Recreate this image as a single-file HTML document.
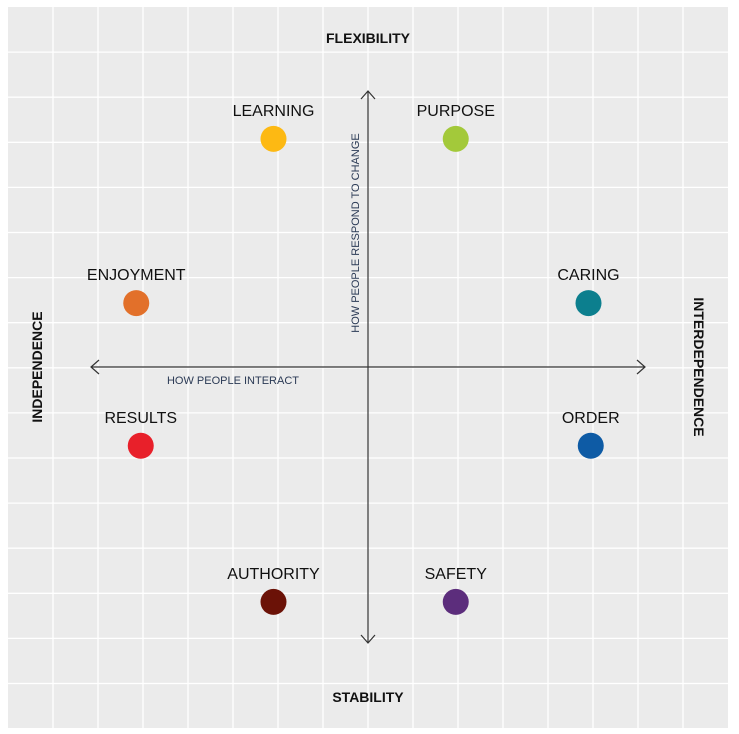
<!DOCTYPE html>
<html><head><meta charset="utf-8"><style>
html,body{margin:0;padding:0;background:#fff;}
svg{display:block;}
.lbl{font-family:"Liberation Sans",sans-serif;font-size:16px;fill:#111;text-anchor:middle;}
.ttl{font-family:"Liberation Sans Narrow","Liberation Sans",sans-serif;font-weight:bold;font-size:14px;fill:#111;text-anchor:middle;}
.ax{font-family:"Liberation Sans",sans-serif;font-size:11px;fill:#2b3a55;text-anchor:middle;}
</style></head><body>
<svg id="chart" width="739" height="734" viewBox="0 0 739 734" xmlns="http://www.w3.org/2000/svg">
<rect x="8" y="7" width="720" height="721" fill="#ebebeb"/>
<g id="grid"></g>
<g stroke="#333" stroke-width="1.2" fill="none">
<line x1="91" y1="367" x2="645" y2="367"/>
<polyline points="99,360 91,367 99,374"/>
<polyline points="637,360 645,367 637,374"/>
<line x1="368" y1="91" x2="368" y2="643"/>
<polyline points="361,99 368,91 375,99"/>
<polyline points="361,635 368,643 375,635"/>
</g>
<text class="ttl" x="368" y="43">FLEXIBILITY</text>
<text class="ttl" x="368" y="702">STABILITY</text>
<text class="ttl" transform="translate(42,367) rotate(-90)">INDEPENDENCE</text>
<text class="ttl" transform="translate(694,367) rotate(90)">INTERDEPENDENCE</text>
<text class="ax" x="233" y="384">HOW PEOPLE INTERACT</text>
<text class="ax" transform="translate(359,233) rotate(-90)">HOW PEOPLE RESPOND TO CHANGE</text>
<g id="points"></g>
</svg>
<script>
const styles = ["LEARNING","PURPOSE","ENJOYMENT","CARING","RESULTS","ORDER","AUTHORITY","SAFETY"];
const xValues = [-2.1, 1.95, -5.15, 4.9, -5.05, 4.95, -2.1, 1.95];
const yValues = [5.07, 5.07, 1.42, 1.42, -1.75, -1.75, -5.22, -5.22];
const colors = ["#FDB913","#A3C93A","#E2702A","#0C7F8E","#E8202A","#0E5BA5","#6B1207","#5C2D7C"];
const ns="http://www.w3.org/2000/svg";
const cx=368, cy=367, unit=45;
function xs(v){return cx+v*unit;}
function ys(v){return cy-v*unit;}
const grid=document.getElementById('grid');
for(let i=1;i<16;i++){
  const x=8+45*i;
  if(x<728){const l=document.createElementNS(ns,'line');
  l.setAttribute('x1',x);l.setAttribute('x2',x);l.setAttribute('y1',7);l.setAttribute('y2',728);
  l.setAttribute('stroke','#fff');l.setAttribute('stroke-width','1.3');
  
  
  grid.appendChild(l);}
  const y=7+45.1*i;
  if(y<728){const h=document.createElementNS(ns,'line');
  h.setAttribute('y1',y);h.setAttribute('y2',y);h.setAttribute('x1',8);h.setAttribute('x2',728);
  h.setAttribute('stroke','#fff');h.setAttribute('stroke-width','1.3');
  
  
  grid.appendChild(h);}
}
const pts=document.getElementById('points');
styles.forEach((s,i)=>{
  const px=xs(xValues[i]), py=ys(yValues[i]);
  const c=document.createElementNS(ns,'circle');
  c.setAttribute('cx',px);c.setAttribute('cy',py);c.setAttribute('r',13);c.setAttribute('fill',colors[i]);
  
  
  pts.appendChild(c);
  const t=document.createElementNS(ns,'text');
  t.setAttribute('x',px);t.setAttribute('y',py-23);t.setAttribute('class','lbl');
  t.textContent=s;
  
  
  pts.appendChild(t);
});
</script>
</body></html>
